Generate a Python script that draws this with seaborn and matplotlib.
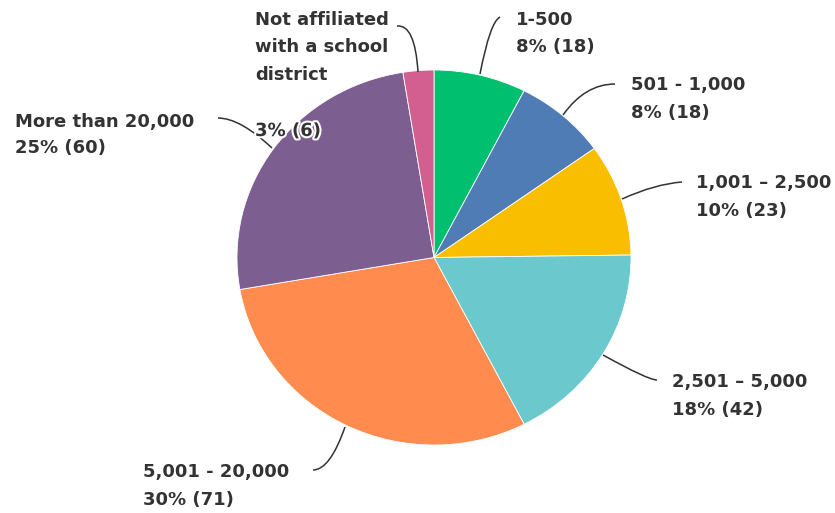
import matplotlib
matplotlib.use("Agg")
import matplotlib.pyplot as plt
import seaborn as sns
from matplotlib.path import Path
from matplotlib.patches import PathPatch
import matplotlib.patheffects as pe

categories = ["1-500", "501 - 1,000", "1,001 – 2,500", "2,501 – 5,000",
              "5,001 - 20,000", "More than 20,000",
              "Not affiliated\nwith a school\ndistrict"]
counts = [18, 18, 23, 42, 71, 60, 6]
percents = [8, 8, 10, 18, 30, 25, 3]
colors = ["#00BF6F", "#507CB6", "#F9BE00", "#6BC8CD", "#FF8B4F", "#7D5E90", "#D25F90"]

sns.set_theme(style="white")
plt.rcParams["font.family"] = ["DejaVu Sans"]

W, H = 835, 513
fig = plt.figure(figsize=(W / 100, H / 100), dpi=100)

# pie axes (slightly elliptical like the reference)
cx, cy, rx, ry = 434, 257.5, 197, 187.5
ax = fig.add_axes([(cx - rx) / W, (H - cy - ry) / H, 2 * rx / W, 2 * ry / H])
ax.pie(counts, colors=colors, startangle=90, counterclock=False, radius=1,
       wedgeprops=dict(edgecolor="white", linewidth=0.6))
ax.set_aspect("auto")
ax.set_xlim(-1, 1)
ax.set_ylim(-1, 1)
ax.axis("off")

# overlay for labels in pixel coordinates
ov = fig.add_axes([0, 0, 1, 1])
ov.set_xlim(0, W)
ov.set_ylim(H, 0)
ov.axis("off")
ov.patch.set_alpha(0)

txt_color = "#333333"
fs = 13.0
fw = "bold"
lab_pos = {
    0: (516, 20, 47),
    1: (631, 85, 113),
    2: (696, 183, 211),
    3: (672, 382, 410),
    4: (143, 472, 500),
    5: (15, 122, 148),
}
for i, (x, y1, y2) in lab_pos.items():
    ov.text(x, y1, categories[i], fontsize=fs, fontweight=fw, color=txt_color,
            ha="left", va="center")
    ov.text(x, y2, f"{percents[i]}% ({counts[i]})", fontsize=fs, fontweight=fw,
            color=txt_color, ha="left", va="center")

# Not affiliated label
for j, line in enumerate(categories[6].split("\n")):
    ov.text(255, 20 + j * 27.5, line, fontsize=fs, fontweight=fw, color=txt_color,
            ha="left", va="center")
ov.text(255, 131, f"{percents[6]}% ({counts[6]})", fontsize=fs, fontweight=fw,
        color=txt_color, ha="left", va="center", zorder=5,
        path_effects=[pe.withStroke(linewidth=3, foreground="white")])

# leader lines (quadratic curves): start, control, end
leaders = [
    ((480, 74), (490, 22), (500, 17)),
    ((563, 115), (585, 84), (615, 84)),
    ((622, 199), (655, 184), (682, 182)),
    ((603, 355), (648, 380), (657, 380)),
    ((345, 427), (330, 470), (313, 470)),
    ((218, 118), (240, 118), (272, 148)),
    ((397, 26), (415, 24), (418, 72)),
]
for s, c, e in leaders:
    p = Path([s, c, e], [Path.MOVETO, Path.CURVE3, Path.CURVE3])
    ov.add_patch(PathPatch(p, facecolor="none", edgecolor="#333333", linewidth=1.1, zorder=4))

fig.savefig("out.png", dpi=100, facecolor="white")
